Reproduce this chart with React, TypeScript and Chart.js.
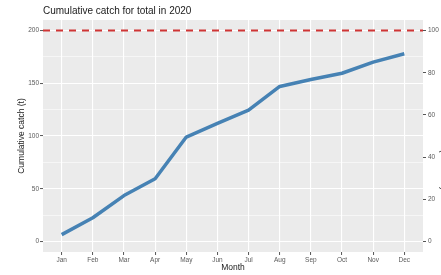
import React, { useEffect, useRef } from "react";
import { Chart, registerables } from "chart.js";

Chart.register(...registerables);

const months = ["Jan", "Feb", "Mar", "Apr", "May", "Jun", "Jul", "Aug", "Sep", "Oct", "Nov", "Dec"];
const cumulativeCatch = [6.5, 22.5, 43.5, 59.5, 99, 112, 124.5, 147, 153.5, 159.5, 170, 178];
const catchLimit = 200;
const leftMajorTicks = [0, 50, 100, 150, 200];
const leftMinorTicks = [25, 75, 125, 175];
const rightTicks = [0, 20, 40, 60, 80, 100];

const FONT = "'Liberation Sans', Arial, sans-serif";

export default function App() {
  const ref = useRef<HTMLCanvasElement>(null);

  useEffect(() => {
    document.body.style.margin = "0";
    const canvas = ref.current;
    if (!canvas) return;

    const xMin = 0.4;
    const xMax = months.length + 0.6;
    const isMajor = (v: number) => leftMajorTicks.includes(v);

    const bgPlugin = {
      id: "panelBg",
      beforeDraw(chart: any) {
        const { ctx, chartArea } = chart;
        ctx.save();
        ctx.fillStyle = "#FFFFFF";
        ctx.fillRect(0, 0, chart.width, chart.height);
        ctx.fillStyle = "#EBEBEB";
        ctx.fillRect(chartArea.left, chartArea.top, chartArea.right - chartArea.left, chartArea.bottom - chartArea.top);
        ctx.restore();
      },
    };

    const textPlugin = {
      id: "texts",
      afterDraw(chart: any) {
        const { ctx, chartArea } = chart;
        ctx.save();
        ctx.fillStyle = "#1a1a1a";
        ctx.font = `10px ${FONT}`;
        ctx.textAlign = "left";
        ctx.textBaseline = "middle";
        ctx.fillText("Cumulative catch for total in 2020", chartArea.left, 11);

        ctx.font = `8.5px ${FONT}`;
        ctx.textAlign = "center";
        ctx.fillText("Month", (chartArea.left + chartArea.right) / 2, 268);

        const cy = (chartArea.top + chartArea.bottom) / 2;
        ctx.save();
        ctx.translate(22, cy);
        ctx.rotate(-Math.PI / 2);
        ctx.fillText("Cumulative catch (t)", 0, 0);
        ctx.restore();

        ctx.save();
        ctx.translate(443.5, cy);
        ctx.rotate(Math.PI / 2);
        ctx.fillText("Cumulative catch (% of limit)", 0, 0);
        ctx.restore();
        ctx.restore();
      },
    };

    const chart = new Chart(canvas, {
      type: "line",
      data: {
        datasets: [
          {
            data: cumulativeCatch.map((v, i) => ({ x: i + 1, y: v })),
            borderColor: "#4682B4",
            borderWidth: 3.5,
            pointRadius: 0,
            tension: 0,
            borderJoinStyle: "round",
            yAxisID: "y",
          },
          {
            data: [
              { x: xMin, y: catchLimit },
              { x: xMax, y: catchLimit },
            ],
            borderColor: "#CF3535",
            borderWidth: 2,
            borderDash: [7, 6],
            pointRadius: 0,
            yAxisID: "y",
          },
        ],
      },
      options: {
        responsive: false,
        animation: false,
        events: [],
        layout: { padding: { top: 20, left: 0, right: 0, bottom: 0 } },
        plugins: { legend: { display: false }, tooltip: { enabled: false }, title: { display: false } },
        scales: {
          x: {
            type: "linear",
            min: xMin,
            max: xMax,
            afterBuildTicks: (axis: any) => {
              axis.ticks = months.map((_, i) => ({ value: i + 1 }));
            },
            afterFit: (axis: any) => {
              axis.height = 23;
            },
            ticks: {
              autoSkip: false,
              maxRotation: 0,
              minRotation: 0,
              padding: 1,
              color: "#5a5a5a",
              font: { family: FONT, size: 6.5 },
              callback: (v: any) => months[Math.round(Number(v)) - 1] ?? "",
            },
            grid: {
              color: "#FFFFFF",
              lineWidth: 1.1,
              tickLength: 3,
              tickColor: "#555555",
              tickWidth: 1,
            },
            border: { display: false },
          },
          y: {
            type: "linear",
            position: "left",
            min: -10,
            max: 210,
            afterBuildTicks: (axis: any) => {
              axis.ticks = [...leftMajorTicks, ...leftMinorTicks].sort((a, b) => a - b).map((v) => ({ value: v }));
            },
            afterFit: (axis: any) => {
              axis.width = 43;
            },
            ticks: {
              padding: 1,
              color: "#5a5a5a",
              font: { family: FONT, size: 6.5 },
              callback: (v: any) => (isMajor(Number(v)) ? String(v) : ""),
            },
            grid: {
              color: "#FFFFFF",
              lineWidth: (ctx: any) => (isMajor(ctx.tick?.value) ? 1.1 : 0.55),
              tickLength: 3,
              tickColor: (ctx: any) => (isMajor(ctx.tick?.value) ? "#555555" : "rgba(0,0,0,0)"),
              tickWidth: 1,
            },
            border: { display: false },
          },
          y2: {
            type: "linear",
            position: "right",
            min: -5,
            max: 105,
            afterBuildTicks: (axis: any) => {
              axis.ticks = rightTicks.map((v) => ({ value: v }));
            },
            afterFit: (axis: any) => {
              axis.width = 18;
            },
            ticks: {
              padding: 2,
              color: "#5a5a5a",
              font: { family: FONT, size: 6.5 },
            },
            grid: {
              drawOnChartArea: false,
              tickLength: 3,
              tickColor: "#555555",
              tickWidth: 1,
            },
            border: { display: false },
          },
        },
      },
      plugins: [bgPlugin, textPlugin],
    } as any);

    return () => chart.destroy();
  }, []);

  return (
    <canvas
      ref={ref}
      width={441}
      height={275}
      style={{ position: "fixed", left: 0, top: 0, display: "block", width: 441, height: 275 }}
    />
  );
}
